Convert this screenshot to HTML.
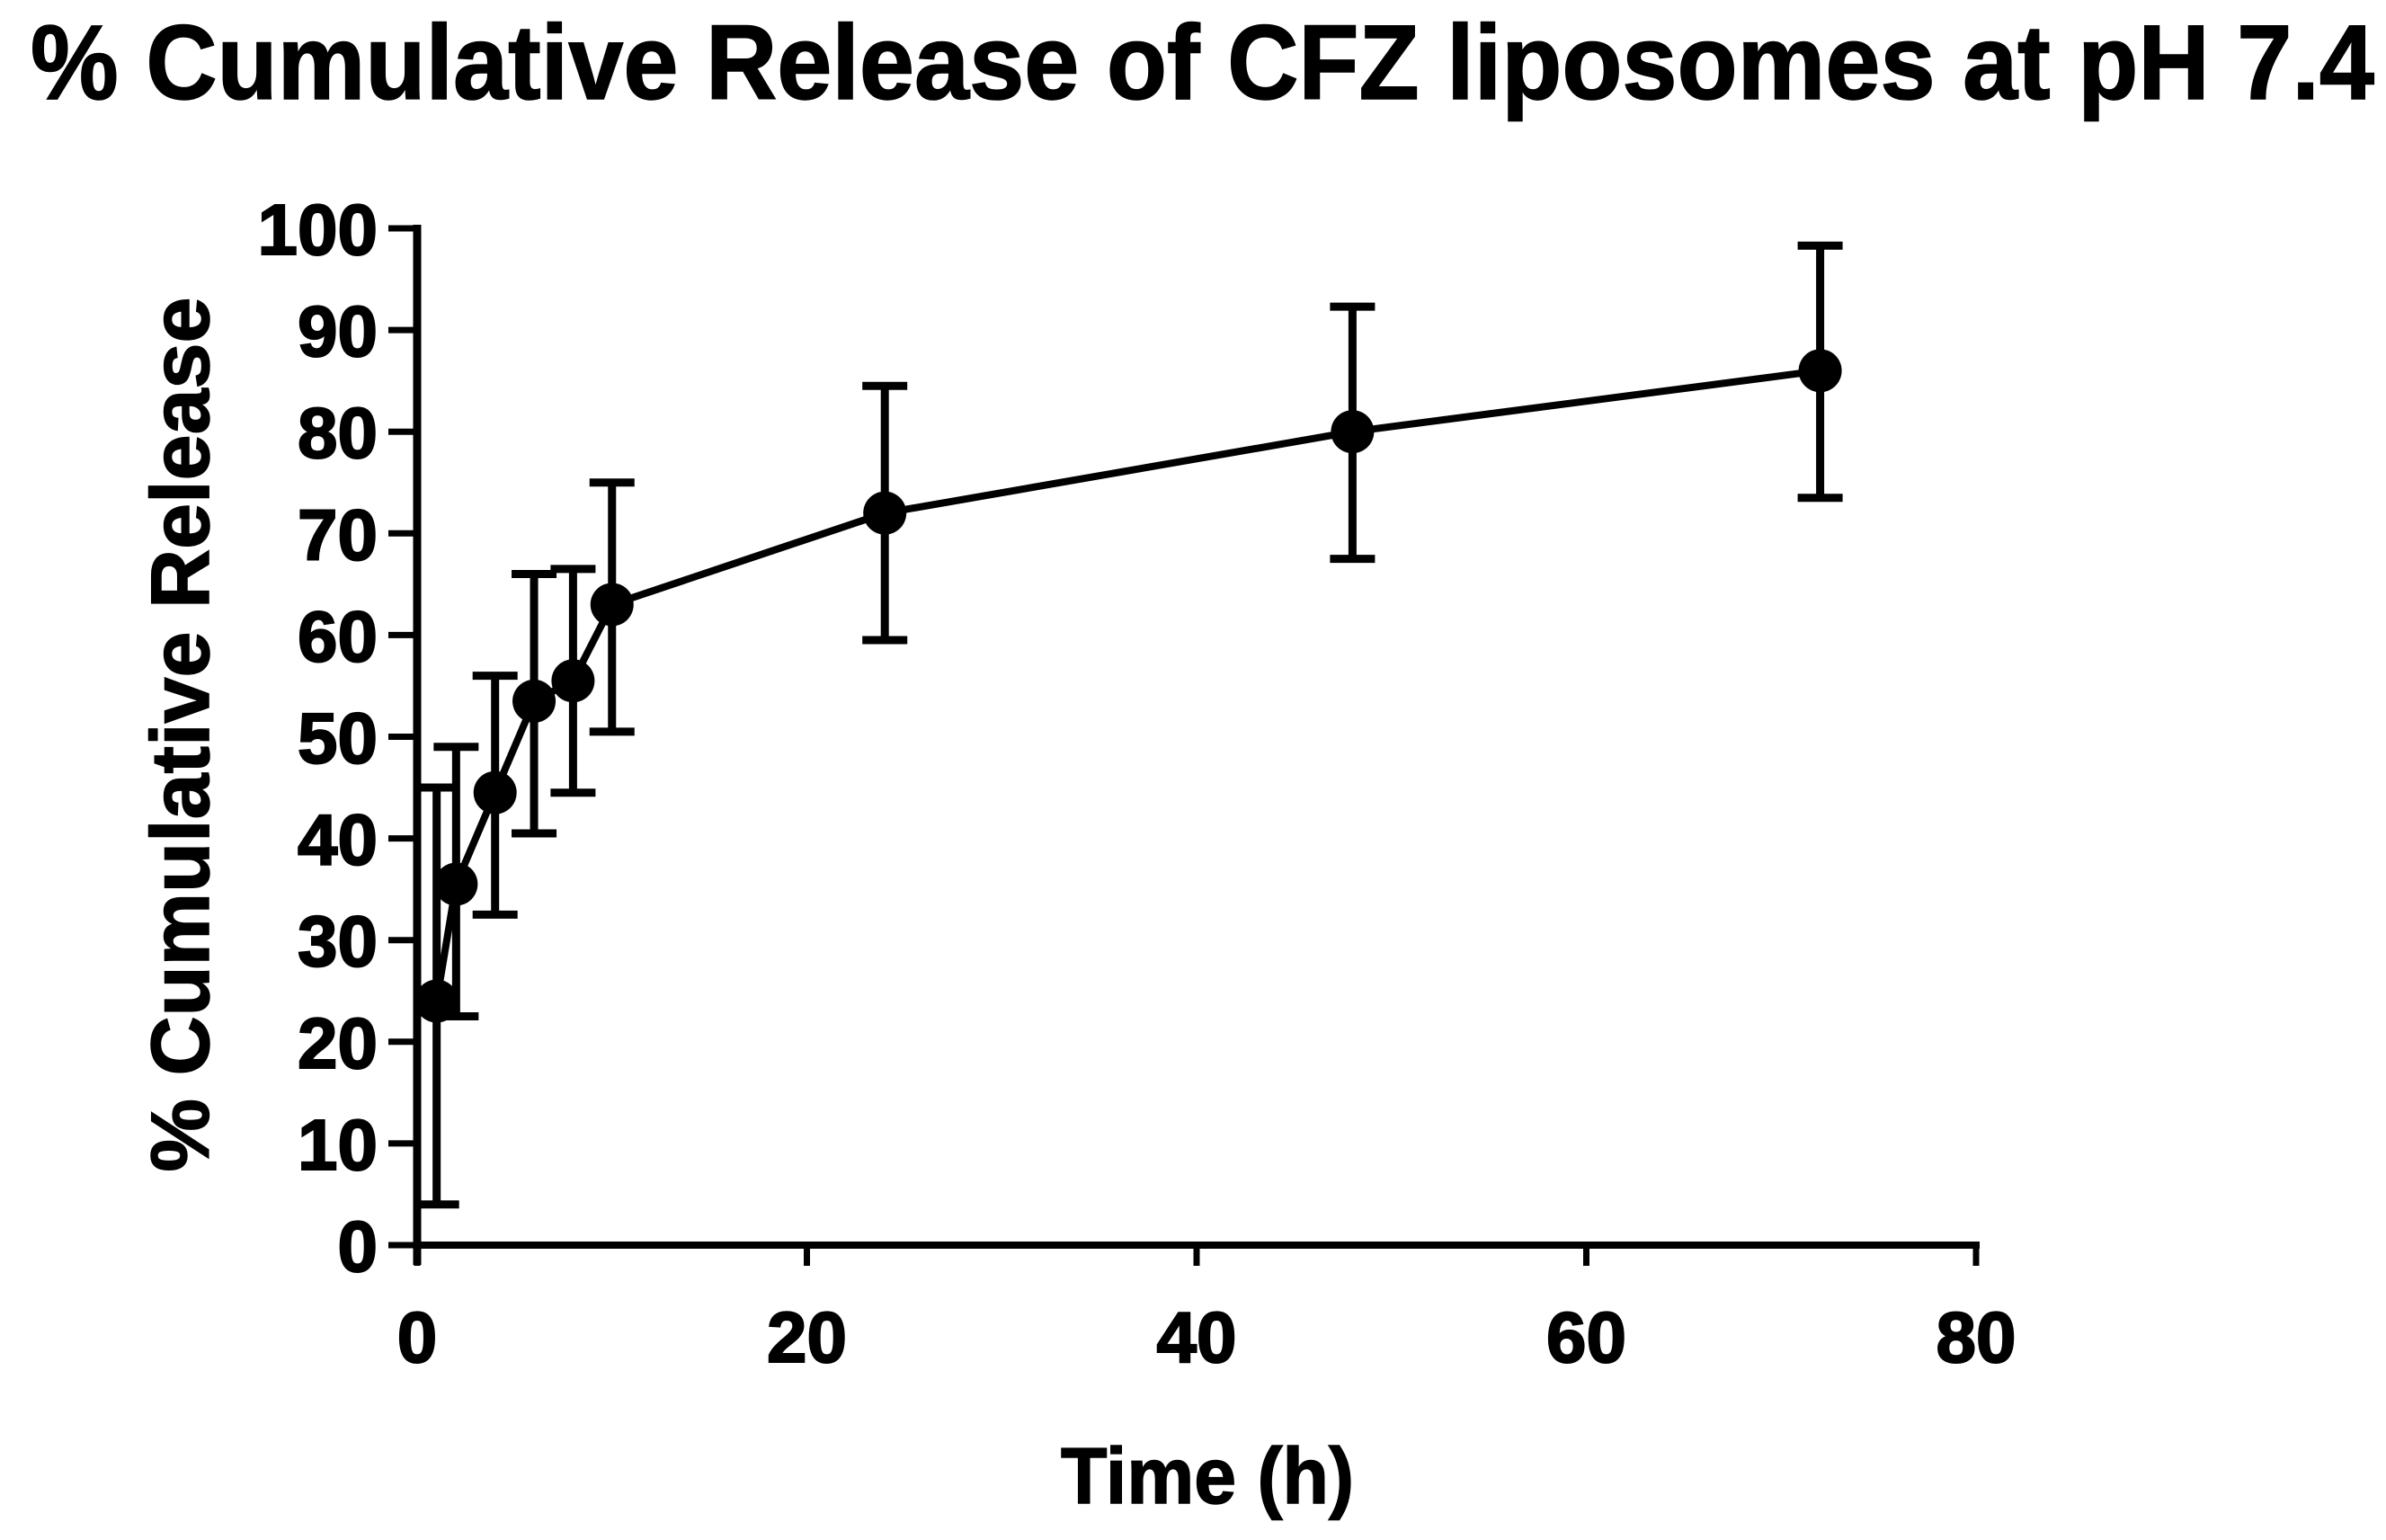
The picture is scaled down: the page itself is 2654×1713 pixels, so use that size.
<!DOCTYPE html>
<html><head><meta charset="utf-8"><style>
html,body{margin:0;padding:0;background:#fff;}
svg{display:block;font-family:"Liberation Sans",Arial,sans-serif;font-weight:bold;}
</style></head><body>
<svg id="chart" width="2654" height="1713" viewBox="0 0 2654 1713" xmlns="http://www.w3.org/2000/svg">
<text x="34" y="110" font-size="118" textLength="2607" lengthAdjust="spacingAndGlyphs" stroke="#000" stroke-width="1.5">% Cumulative Release of CFZ liposomes at pH 7.4</text>
<text transform="translate(232,817) rotate(-90)" text-anchor="middle" font-size="92" textLength="973" lengthAdjust="spacingAndGlyphs" stroke="#000" stroke-width="1.5">% Cumulative Release</text>
<text x="1343" y="1672" text-anchor="middle" font-size="88" textLength="326" lengthAdjust="spacingAndGlyphs" stroke="#000" stroke-width="1.5">Time (h)</text>
<g id="axes"></g>
<g id="series"></g>
</svg>
<script>
const times = [1, 2, 4, 6, 8, 10, 24, 48, 72];
const release = [24, 35.5, 44.5, 53.5, 55.5, 63, 72, 80, 86];
const errLow = [4, 22.5, 32.5, 40.5, 44.5, 50.5, 59.5, 67.5, 73.5];
const errHigh = [45, 49, 56, 66, 66.5, 75, 84.5, 92.3, 98.3];
const xTicks = [0, 20, 40, 60, 80];
const yTicks = [0, 10, 20, 30, 40, 50, 60, 70, 80, 90, 100];

const X0 = 464, X1 = 2198, Y0 = 1385, Y1 = 254;
const xs = v => X0 + (v / 80) * (X1 - X0);
const ys = v => Y0 - (v / 100) * (Y0 - Y1);
const NS = "http://www.w3.org/2000/svg";
function mk(tag, attrs, parent) {
  const e = document.createElementNS(NS, tag);
  for (const k in attrs) e.setAttribute(k, attrs[k]);
  parent.appendChild(e);
  return e;
}
const axes = document.getElementById('axes');
const series = document.getElementById('series');

const yAxis = mk('line', {x1: X0, y1: Y1 - 4, x2: X0, y2: Y0 + 22, stroke: '#000', 'stroke-width': 9}, axes);


const xAxis = mk('line', {x1: X0 - 4, y1: Y0, x2: X1 + 4, y2: Y0, stroke: '#000', 'stroke-width': 8}, axes);



yTicks.forEach(v => {
  const t = mk('line', {x1: 432, y1: ys(v), x2: X0, y2: ys(v), stroke: '#000', 'stroke-width': 7}, axes);
  
  
  const l = mk('text', {x: 420, y: ys(v) + 29, 'text-anchor': 'end', 'font-size': 80, stroke: '#000', 'stroke-width': 2}, axes);
  
  
  l.textContent = v;
});
xTicks.forEach(v => {
  const t = mk('line', {x1: xs(v), y1: Y0, x2: xs(v), y2: 1408, stroke: '#000', 'stroke-width': 7}, axes);
  
  
  const l = mk('text', {x: xs(v), y: 1515, 'text-anchor': 'middle', 'font-size': 80, stroke: '#000', 'stroke-width': 2}, axes);
  
  
  l.textContent = v;
});

const pts = times.map((t, i) => xs(t) + ',' + ys(release[i])).join(' ');
const line = mk('polyline', {points: pts, fill: 'none', stroke: '#000', 'stroke-width': 8, 'stroke-linejoin': 'round'}, series);



times.forEach((t, i) => {
  const x = xs(t);
  const eb = mk('path', {d: `M${x},${ys(errLow[i])}V${ys(errHigh[i])}M${x-25},${ys(errHigh[i])}H${x+25}M${x-25},${ys(errLow[i])}H${x+25}`, stroke: '#000', 'stroke-width': 9, fill: 'none'}, series);
  
  
  const c = mk('circle', {cx: x, cy: ys(release[i]), r: 24, fill: '#000'}, series);
  
  
});
</script>
</body></html>
